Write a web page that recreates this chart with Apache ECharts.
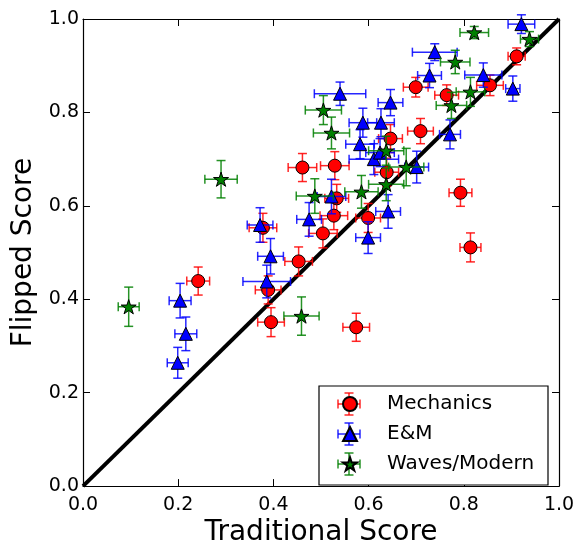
<!DOCTYPE html>
<html>
<head>
<meta charset="utf-8">
<script src="https://cdn.jsdelivr.net/npm/echarts@6/dist/echarts.min.js"></script>
<style>html,body{margin:0;padding:0;background:#fff;}#c{width:579px;height:552px;}</style>
</head>
<body>
<div id="c"></div>
<script>
// ---- data ----
const seriesNames = ['Mechanics', 'E&M', 'Waves/Modern'];
const tickValues = [0.0, 0.2, 0.4, 0.6, 0.8, 1.0];

const mechX    = [0.242,0.378,0.389,0.395,0.453,0.461,0.504,0.527,0.533,0.529,0.574,0.599,0.638,0.646,0.699,0.709,0.764,0.793,0.814,0.855,0.911];
const mechY    = [0.439,0.553,0.420,0.351,0.481,0.682,0.541,0.579,0.616,0.686,0.340,0.574,0.672,0.744,0.854,0.760,0.837,0.628,0.511,0.858,0.920];
const mechXErr = [0.024,0.029,0.027,0.028,0.029,0.030,0.030,0.029,0.025,0.030,0.028,0.026,0.025,0.025,0.026,0.027,0.025,0.024,0.022,0.028,0.018];
const mechYErr = [0.030,0.031,0.030,0.031,0.031,0.030,0.031,0.030,0.030,0.030,0.030,0.031,0.030,0.030,0.021,0.027,0.022,0.029,0.031,0.022,0.018];

const emX    = [0.199,0.216,0.204,0.386,0.394,0.372,0.475,0.522,0.599,0.641,0.611,0.624,0.582,0.588,0.626,0.646,0.540,0.701,0.771,0.728,0.739,0.841,0.903,0.921];
const emY    = [0.264,0.326,0.397,0.438,0.492,0.559,0.571,0.620,0.532,0.588,0.700,0.714,0.732,0.778,0.778,0.821,0.840,0.683,0.753,0.879,0.929,0.880,0.851,0.989];
const emXErr = [0.022,0.023,0.023,0.050,0.027,0.027,0.026,0.030,0.026,0.026,0.052,0.030,0.030,0.029,0.028,0.026,0.054,0.025,0.022,0.025,0.047,0.039,0.015,0.028];
const emYErr = [0.033,0.036,0.037,0.035,0.038,0.037,0.036,0.037,0.034,0.036,0.033,0.030,0.031,0.031,0.030,0.028,0.025,0.034,0.031,0.026,0.018,0.026,0.027,0.020];

const wavX    = [0.096,0.290,0.459,0.487,0.505,0.522,0.585,0.637,0.637,0.679,0.774,0.782,0.814,0.822,0.938];
const wavY    = [0.384,0.657,0.364,0.621,0.805,0.756,0.630,0.646,0.718,0.683,0.815,0.908,0.844,0.971,0.957];
const wavXErr = [0.022,0.034,0.037,0.039,0.038,0.038,0.035,0.037,0.037,0.037,0.032,0.031,0.030,0.030,0.019];
const wavYErr = [0.042,0.040,0.041,0.037,0.031,0.034,0.035,0.035,0.031,0.040,0.028,0.025,0.031,0.013,0.016];

const diagX = [0, 1];
const diagY = [0, 1];

// ---- build ----
function zip4(a,b,c,d){ return a.map((v,i)=>[v,b[i],c[i],d[i]]); }
function zip2(a,b){ return a.map((v,i)=>[v,b[i]]); }

// five-point star path (matplotlib '*' shape)
function starPath(){
  let p = '';
  for (let k = 0; k < 10; k++) {
    const r = (k % 2 === 0) ? 50 : 50 * 0.381966;
    const a = Math.PI / 2 + k * Math.PI / 5;
    const x = 50 + r * Math.cos(a), y = 50 - r * Math.sin(a);
    p += (k === 0 ? 'M' : 'L') + x.toFixed(2) + ' ' + y.toFixed(2) + ' ';
  }
  return 'path://' + p + 'Z';
}
const STAR = starPath();
const CAP = 4.5;

function errRender(color){
  return function(params, api){
    const x = api.value(0), y = api.value(1), xe = api.value(2), ye = api.value(3);
    const l = api.coord([x - xe, y]), r = api.coord([x + xe, y]);
    const t = api.coord([x, y + ye]), b = api.coord([x, y - ye]);
    const st = {stroke: color, lineWidth: 1.5, opacity: 0.85};
    const ln = (x1,y1,x2,y2)=>({type:'line', shape:{x1,y1,x2,y2}, style:st});
    return {type:'group', children:[
      ln(l[0], l[1], r[0], r[1]),
      ln(t[0], t[1], b[0], b[1]),
      ln(l[0], l[1]-CAP, l[0], l[1]+CAP),
      ln(r[0], r[1]-CAP, r[0], r[1]+CAP),
      ln(t[0]-CAP, t[1], t[0]+CAP, t[1]),
      ln(b[0]-CAP, b[1], b[0]+CAP, b[1])
    ]};
  };
}

const colors = ['#ff0000', '#0000ff', '#008000'];
const symbols = ['circle', 'triangle', STAR];
const sizes = [13, 13, 15];
const groups = [
  [mechX, mechY, mechXErr, mechYErr],
  [emX, emY, emXErr, emYErr],
  [wavX, wavY, wavXErr, wavYErr]
];

const series = [{
  type: 'line', data: zip2(diagX, diagY), symbol: 'none', z: 1,
  lineStyle: {color: '#000', width: 4}, silent: true, clip: false, animation: false
}];
groups.forEach((g, i) => {
  series.push({
    type: 'custom', name: seriesNames[i] + ' err', renderItem: errRender(colors[i]),
    data: zip4(g[0], g[1], g[2], g[3]), encode: {x: 0, y: 1}, z: 2 + i * 2, clip: false, animation: false
  });
  series.push({
    type: 'scatter', name: seriesNames[i], data: zip2(g[0], g[1]),
    symbol: symbols[i], symbolSize: sizes[i], symbolKeepAspect: true, z: 3 + i * 2,
    itemStyle: {color: colors[i], borderColor: '#000', borderWidth: 1, opacity: 1},
    animation: false
  });
});

const FONT = 'DejaVu Sans';
function axisBase(pos, isX, withLabels){
  return {
    type: 'value', position: pos, min: tickValues[0], max: tickValues[tickValues.length-1],
    interval: tickValues[1] - tickValues[0],
    axisLine: {show: true, onZero: false, lineStyle: {color: '#000', width: 1.2}},
    axisTick: {show: true, inside: true, length: 7, lineStyle: {color: '#000', width: 1}},
    axisLabel: {show: withLabels, formatter: v => v.toFixed(1), fontSize: 19, color: '#000',
      fontFamily: FONT, margin: isX ? 9 : 4, showMinLabel: true, showMaxLabel: true},
    splitLine: {show: false}
  };
}
const xMain = Object.assign(axisBase('bottom', true, true), {
  name: 'Traditional Score', nameLocation: 'middle', nameGap: 32,
  nameTextStyle: {fontSize: 28, color: '#000', fontFamily: FONT}
});
const yMain = Object.assign(axisBase('left', false, true), {
  name: 'Flipped Score', nameLocation: 'middle', nameGap: 42,
  nameTextStyle: {fontSize: 28, color: '#000', fontFamily: FONT}
});

// legend frame and error-bar crosses
const LX = 349, LY0 = 404, LDY = 30, LH = 11;
const gEls = [{
  type: 'rect', shape: {x: 319, y: 386, width: 229, height: 99},
  style: {fill: '#fff', stroke: '#000', lineWidth: 1.2}, z: 15
}];
colors.forEach((c, i) => {
  const cy = LY0 + i * LDY;
  const st = {stroke: c, lineWidth: 1.5, opacity: 0.85};
  const ln = (x1,y1,x2,y2)=>({type:'line', shape:{x1,y1,x2,y2}, style:st, z:16});
  gEls.push(ln(LX-LH, cy, LX+LH, cy), ln(LX, cy-LH, LX, cy+LH),
    ln(LX-LH, cy-CAP, LX-LH, cy+CAP), ln(LX+LH, cy-CAP, LX+LH, cy+CAP),
    ln(LX-CAP, cy-LH, LX+CAP, cy-LH), ln(LX-CAP, cy+LH, LX+CAP, cy+LH));
});

const chart = echarts.init(document.getElementById('c'), null, {renderer: 'canvas'});
chart.setOption({
  animation: false,
  backgroundColor: '#fff',
  grid: {left: 83, top: 19, width: 476, height: 476, containLabel: false},
  xAxis: [xMain, axisBase('top', true, false)],
  yAxis: [yMain, axisBase('right', false, false)],
  legend: {
    data: seriesNames, orient: 'vertical', left: LX - 7, top: LY0 - 10,
    itemWidth: 14, itemHeight: 14, itemGap: 10, padding: 0, z: 20,
    textStyle: {fontSize: 20, color: '#000', fontFamily: FONT, padding: [0, 0, 0, 25]},
    selectedMode: false
  },
  graphic: gEls,
  series: series
});
</script>
</body>
</html>
